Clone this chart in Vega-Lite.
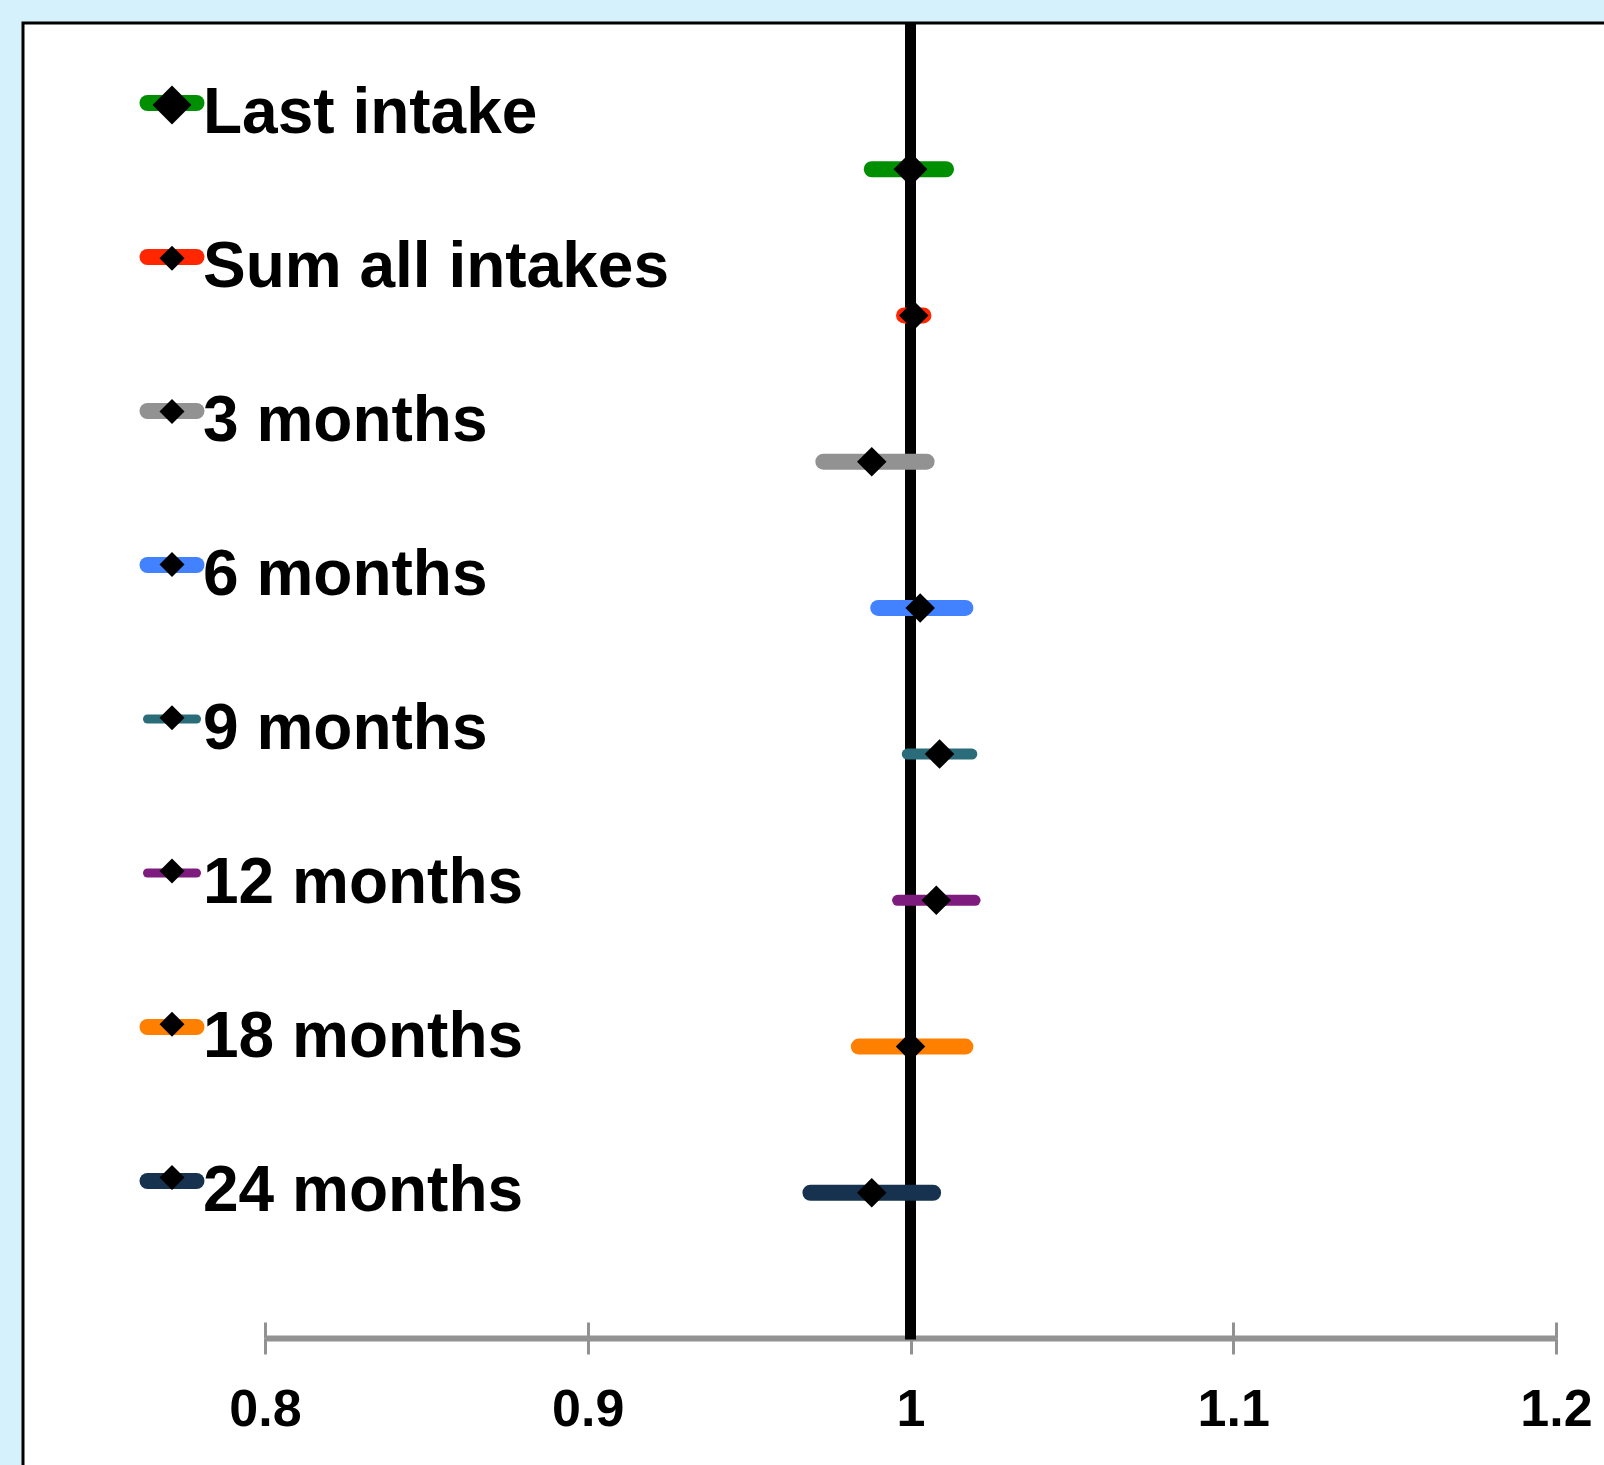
{
  "$schema": "https://vega.github.io/schema/vega-lite/v6.json",
  "width": 1581,
  "height": 1442,
  "autosize": "none",
  "padding": {"left": 23, "top": 23, "right": 0, "bottom": 0},
  "background": "#D5F1FC",
  "config": {
    "view": {"fill": "white", "stroke": "black", "strokeWidth": 3, "strokeDash": [1581, 3023, 1442, 10]},
    "font": "Liberation Sans"
  },
  "data": {
    "values": [
      {"series": "Last intake", "estimate": 1.000, "lower": 0.988, "upper": 1.011},
      {"series": "Sum all intakes", "estimate": 1.001, "lower": 0.998, "upper": 1.004},
      {"series": "3 months", "estimate": 0.988, "lower": 0.973, "upper": 1.005},
      {"series": "6 months", "estimate": 1.003, "lower": 0.990, "upper": 1.017},
      {"series": "9 months", "estimate": 1.009, "lower": 0.999, "upper": 1.019},
      {"series": "12 months", "estimate": 1.008, "lower": 0.996, "upper": 1.020},
      {"series": "18 months", "estimate": 1.000, "lower": 0.984, "upper": 1.017},
      {"series": "24 months", "estimate": 0.988, "lower": 0.969, "upper": 1.007}
    ]
  },
  "resolve": {"axis": {"x": "independent"}},
  "layer": [
    {
      "mark": {"type": "rule", "strokeCap": "round"},
      "encoding": {
        "x": {
          "field": "lower", "type": "quantitative",
          "scale": {"domain": [0.8, 1.2], "range": [242, 1533], "nice": false, "zero": false},
          "axis": {
            "orient": "bottom",
            "values": [0.8, 0.9, 1, 1.1, 1.2], "format": "~g", "title": null, "grid": false,
            "offset": -127, "domainColor": "#929292", "domainWidth": 6,
            "tickColor": "#929292", "tickWidth": 3, "tickSize": 16,
            "labelFont": "Liberation Sans", "labelFontSize": 52, "labelFontWeight": "bold",
            "labelColor": "black", "labelPadding": 30, "labelFlush": false, "labelOverlap": false
          }
        },
        "x2": {"field": "upper"},
        "y": {
          "field": "series", "type": "nominal", "sort": null,
          "scale": {"type": "point", "domain": ["Last intake", "Sum all intakes", "3 months", "6 months", "9 months", "12 months", "18 months", "24 months"], "range": [0, 1316], "padding": 1},
          "axis": {"orient": "left", "offset": -887, "domainColor": "black", "domainWidth": 11, "ticks": false, "labels": false, "title": null, "grid": false}
        },
        "color": {
          "field": "series", "type": "nominal",
          "scale": {
            "domain": ["Last intake", "Sum all intakes", "3 months", "6 months", "9 months", "12 months", "18 months", "24 months"],
            "range": ["#008F00", "#FF2600", "#929292", "#4281FF", "#2A6C79", "#7D1B7E", "#FF8000", "#17324F"]
          },
          "legend": {
            "orient": "none", "legendX": 117, "legendY": 48, "title": null,
            "symbolType": "stroke", "symbolSize": 2401, "symbolStrokeWidth": 16,
            "labelFont": "Liberation Sans", "labelFontSize": 64, "labelFontWeight": "bold",
            "labelColor": "black", "labelLimit": 1000, "labelOffset": -1, "rowPadding": 79, "padding": 0, "zindex": 1,
            "encode": {
              "symbols": {"update": {"strokeCap": {"value": "round"}, "strokeWidth": {"signal": "datum.value === '9 months' || datum.value === '12 months' ? 9 : 16"}}},
              "labels": {"update": {"dy": {"value": 11}}}
            }
          }
        },
        "strokeWidth": {"condition": {"test": "datum.series === '9 months' || datum.series === '12 months'", "value": 11}, "value": 16}
      }
    },
    {
      "mark": {"type": "point", "filled": true, "color": "black", "opacity": 1},
      "encoding": {
        "x": {
          "field": "estimate", "type": "quantitative",
          "axis": {
            "orient": "bottom", "offset": -143, "domain": false, "labels": false, "title": null, "grid": false,
            "values": [0.8, 0.9, 1, 1.1, 1.2], "tickColor": "#929292", "tickWidth": 3, "tickSize": 16
          }
        },
        "y": {"field": "series", "type": "nominal", "sort": null},
        "shape": {
          "field": "series", "type": "nominal", "sort": null,
          "scale": {"range": ["diamond", "diamond", "diamond", "diamond", "diamond", "diamond", "diamond", "diamond"]},
          "legend": {
            "orient": "none", "legendX": 117, "legendY": 50, "title": null,
            "symbolSize": {"expr": "datum.value === 'Last intake' ? 1521 : 625"}, "symbolStrokeWidth": 0, "symbolFillColor": "black",
            "labelFont": "Liberation Sans", "labelFontSize": 64, "labelFontWeight": "bold",
            "labelExpr": "' '",
            "labelOpacity": 0, "labelLimit": 1000, "labelOffset": -1, "rowPadding": 89.2, "padding": 0, "zindex": 2,
            "encode": {
              "symbols": {"update": {"fill": {"value": "black"}, "opacity": {"value": 1}}},
              "labels": {"update": {"dy": {"value": 11}}}
            }
          }
        },
        "size": {"condition": {"test": "datum.series === 'Last intake'", "value": 1150}, "value": 870}
      }
    }
  ]
}
